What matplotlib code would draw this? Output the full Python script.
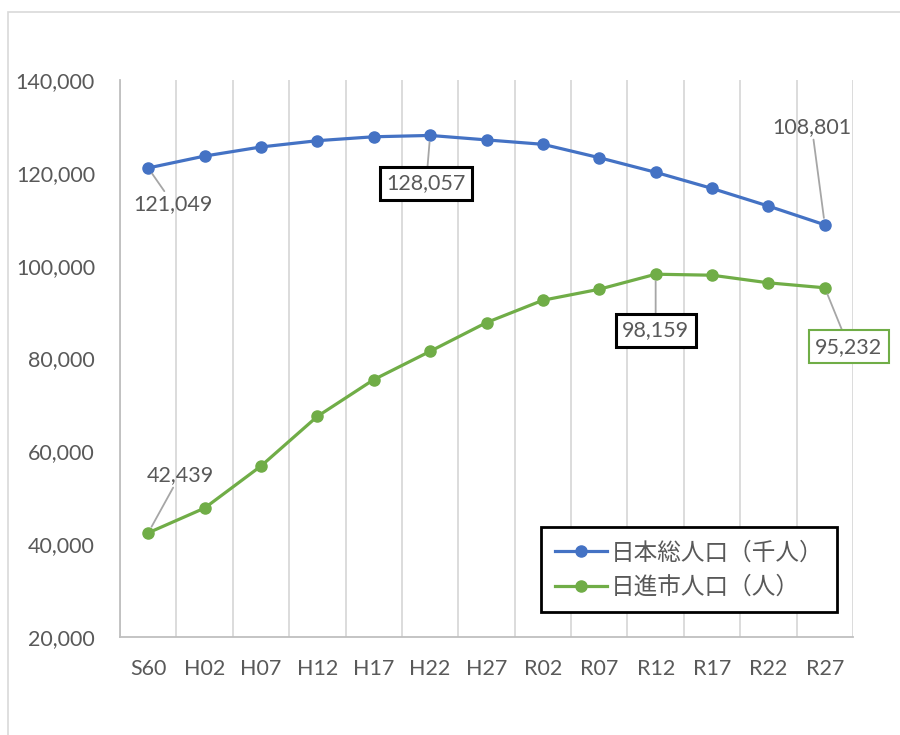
import numpy as np
import matplotlib
matplotlib.use("Agg")
from matplotlib import pyplot as plt
from matplotlib.patches import Rectangle
from matplotlib.ticker import FuncFormatter

plt.rcParams['font.family'] = ['Lato', 'Noto Sans CJK JP', 'DejaVu Sans']

# data
years = ["S60", "H02", "H07", "H12", "H17", "H22", "H27",
         "R02", "R07", "R12", "R17", "R22", "R27"]
japan = [121049, 123611, 125570, 126926, 127768, 128057, 127095,
         126146, 123262, 120116, 116639, 112837, 108801]
nisshin = [42439, 47771, 56830, 67529, 75445, 81550, 87741,
           92551, 94923, 98159, 97943, 96304, 95232]
series_names = ["日本総人口（千人）", "日進市人口（人）"]

blue = "#4472C4"
green = "#70AD47"
txt = "#595959"
grid = "#d9d9d9"
fs = 15.5

fig = plt.figure(figsize=(9, 7.35), dpi=100)
ax = fig.add_axes([120/900, 1-637/735, 733/900, 557/735])

# outer chart frame
fig.patches.append(Rectangle((8/900, -0.05), 1.2, 1 - 12/735 + 0.05,
                             transform=fig.transFigure, fill=False,
                             edgecolor=grid, lw=1.2))

x = np.arange(len(years))
ax.plot(x, japan, color=blue, lw=2.3, marker='o', ms=8, label=series_names[0])
ax.plot(x, nisshin, color=green, lw=2.3, marker='o', ms=8, label=series_names[1])

ax.set_xlim(-0.5, len(years) - 0.5)
ax.set_ylim(20000, 140000)
ax.set_yticks(np.arange(20000, 140001, 20000))
ax.yaxis.set_major_formatter(FuncFormatter(lambda v, p: f"{int(v):,}"))
ax.set_xticks(x)
ax.set_xticklabels(years)
ax.set_xticks(np.arange(-0.5, len(years), 1), minor=True)
ax.grid(which='minor', axis='x', color=grid, lw=1.3)
ax.tick_params(which='both', length=0)
ax.tick_params(axis='y', pad=18, labelsize=fs, labelcolor=txt)
ax.tick_params(axis='x', pad=16, labelsize=fs, labelcolor=txt)
for s in ['top', 'right']:
    ax.spines[s].set_visible(False)
for s in ['left', 'bottom']:
    ax.spines[s].set_color("#bfbfbf")
    ax.spines[s].set_linewidth(1.3)

# data labels
lead = dict(arrowstyle='-', color='#a6a6a6', lw=1.3, shrinkA=0, shrinkB=5)
def label(i, vals, dx, dy, edge=None):
    bbox = None
    if edge is not None:
        bbox = dict(boxstyle='square,pad=0.3', fc='white', ec=edge,
                    lw=2.2 if edge == 'black' else 1.5)
    ax.annotate(f"{vals[i]:,}", xy=(i, vals[i]), xytext=(dx, dy),
                textcoords='offset pixels', ha='center', va='center',
                fontsize=fs, color=txt, bbox=bbox, arrowprops=lead)

label(0, japan, 25, -36)
label(5, japan, -4, -48, 'black')
label(12, japan, -13, 98)
label(0, nisshin, 32, 58)
label(9, nisshin, 0, -56, 'black')
label(12, nisshin, 24, -59, green)

leg = ax.legend(loc='lower left', bbox_to_anchor=(0.574, 0.045),
                borderaxespad=0, fontsize=17, labelcolor=txt,
                handlelength=2.2, handletextpad=0.15, borderpad=0.6,
                labelspacing=0.5, fancybox=False, framealpha=1)
leg.get_frame().set_edgecolor('black')
leg.get_frame().set_linewidth(2)

fig.savefig("out.png", dpi=100)
